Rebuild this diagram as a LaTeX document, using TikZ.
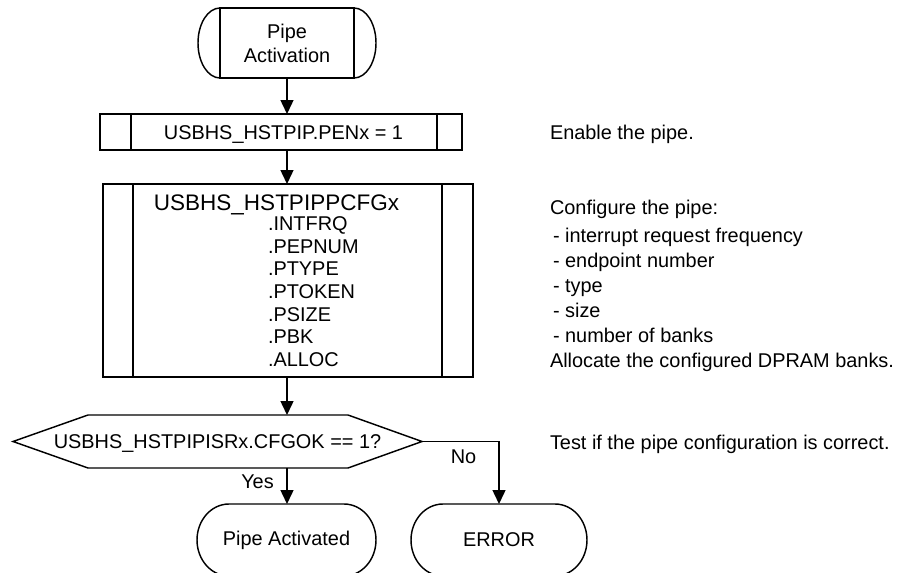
\documentclass[tikz,border=0pt]{standalone}
\usepackage{fontspec}
\setmainfont{Liberation Sans}
\usetikzlibrary{arrows.meta,calc}
\begin{document}
\begin{tikzpicture}[x=1pt,y=-1pt,
  every node/.style={font=\fontsize{19.9}{24}\selectfont, inner sep=0pt, outer sep=0pt},
  ln/.style={line width=1.45pt, line join=miter},
  arr/.style={ln, -{Triangle[length=14pt,width=13pt]}},
  txt/.style={anchor=base west},
  lbl/.style={anchor=base}]
\useasboundingbox (0,0) rectangle (897,573);

% start terminal
\node[ln, draw, minimum width=134pt, minimum height=70pt, align=center] (start) at (287,43) {Pipe\\Activation};
\draw[ln] (start.north west) arc[start angle=-90, end angle=-270, x radius=22, y radius=35];
\draw[ln] (start.north east) arc[start angle=-90, end angle=90, x radius=22, y radius=35];

% enable box
\node[ln, draw, minimum width=362pt, minimum height=36pt] (pen) at (281,132) {};
\node[lbl] (pent) at (283.5,139) {USBHS\_HSTPIP.PENx = 1};
\draw[ln] ($(pen.north west)+(31,0)$) -- ($(pen.south west)+(31,0)$);
\draw[ln] ($(pen.north east)+(-25,0)$) -- ($(pen.south east)+(-25,0)$);

% configure box
\node[ln, draw, minimum width=370pt, minimum height=193pt] (cfg) at (288,280.5) {};
\draw[ln] ($(cfg.north west)+(30,0)$) -- ($(cfg.south west)+(30,0)$);
\draw[ln] ($(cfg.north east)+(-31,0)$) -- ($(cfg.south east)+(-31,0)$);
\node[lbl, font=\fontsize{22.5}{26}\selectfont] (cfgt) at (276.5,210) {USBHS\_HSTPIPPCFGx};
\foreach \t [count=\i] in {.INTFRQ,.PEPNUM,.PTYPE,.PTOKEN,.PSIZE,.PBK,.ALLOC}
  \node[txt] (f\i) at (268,{230.7+22.6*(\i-1)}) {\t};

% decision
\node[minimum width=409pt, minimum height=53pt] (dec) at (217.5,441.5) {};
\node[lbl] (dect) at (217.5,448) {USBHS\_HSTPIPISRx.CFGOK == 1?};
\draw[ln] (dec.west) -- ++(75,-26.5) -- ++(260,0) -- (dec.east) -- ++(-74,26.5) -- ++(-260,0) -- cycle;

% end terminals
\node[minimum width=179pt, minimum height=72pt] (act) at (286.5,540) {Pipe Activated};
\node[minimum width=176pt, minimum height=72pt] (err) at (499,540) {ERROR};
\foreach \n in {act,err}
  \draw[ln] ([xshift=32pt]\n.north west) -- ([xshift=-32pt]\n.north east)
    arc[start angle=-90, end angle=90, x radius=32, y radius=36]
    -- ([xshift=32pt]\n.south west)
    arc[start angle=90, end angle=270, x radius=32, y radius=36] -- cycle;

% connectors
\draw[arr] (start.south) -- (start.south |- pen.north);
\draw[arr] (start.south |- pen.south) -- (start.south |- cfg.north);
\draw[arr] (start.south |- cfg.south) -- (start.south |- dec.north);
\draw[arr] (start.south |- dec.south) -- (start.south |- act.north);
\draw[arr] (dec.east) -| (err.north);
\node[lbl] (yes) at (257.5,488) {Yes};
\node[lbl] (no) at (463.5,463) {No};

% annotations
\node[txt] (a1) at (550,139) {Enable the pipe.};
\node[txt] (a2) at (550,214) {Configure the pipe:};
\node[txt] (a3) at (553,242) {- interrupt request frequency};
\node[txt] (a4) at (553,267.5) {- endpoint number};
\node[txt] (a5) at (553,292.5) {- type};
\node[txt] (a6) at (553,317.5) {- size};
\node[txt] (a7) at (553,342.5) {- number of banks};
\node[txt] (a8) at (550,367.5) {Allocate the configured DPRAM banks.};
\node[txt] (a9) at (550,449) {Test if the pipe configuration is correct.};
\end{tikzpicture}
\end{document}
